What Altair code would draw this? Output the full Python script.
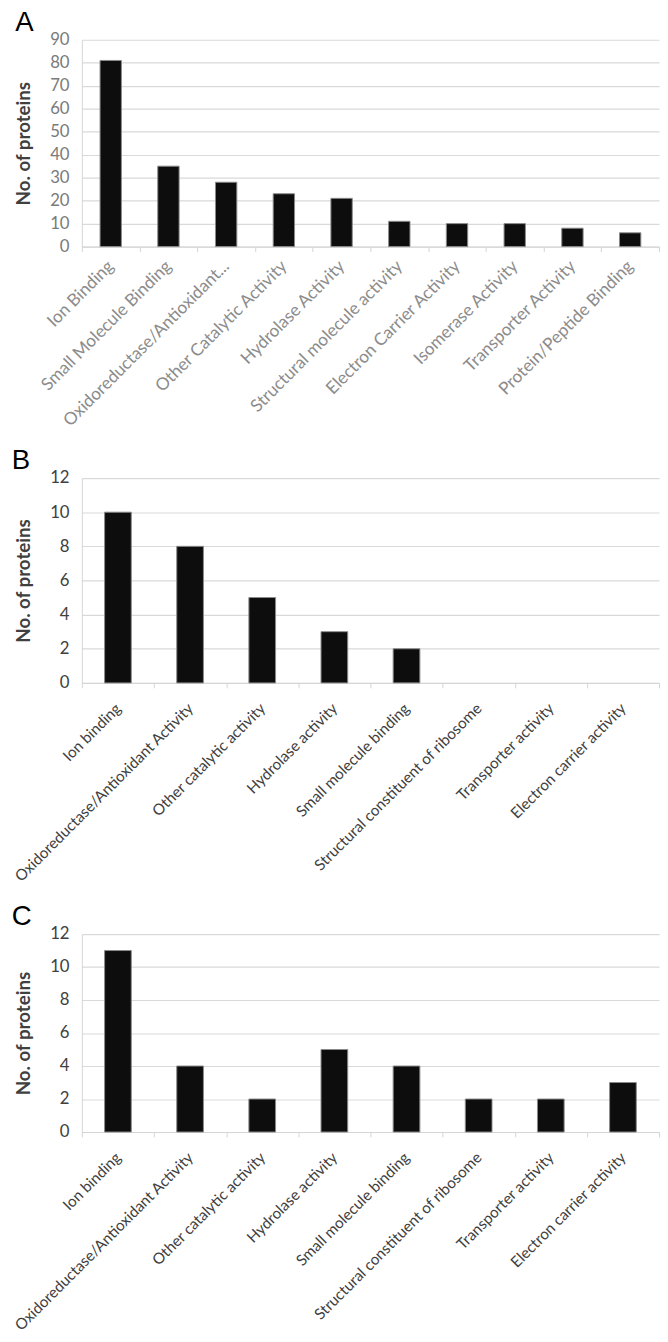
import altair as alt
import pandas as pd

cats_a = ["Ion Binding", "Small Molecule Binding", "Oxidoreductase/Antioxidant...",
          "Other Catalytic Activity", "Hydrolase Activity", "Structural molecule activity",
          "Electron Carrier Activity", "Isomerase Activity", "Transporter Activity",
          "Protein/Peptide Binding"]
vals_a = [81, 35, 28, 23, 21, 11, 10, 10, 8, 6]

cats_bc = ["Ion binding", "Oxidoreductase/Antioxidant Activity", "Other catalytic activity",
           "Hydrolase activity", "Small molecule binding", "Structural constituent of ribosome",
           "Transporter activity", "Electron carrier activity"]
vals_b = [10, 8, 5, 3, 2, 0, 0, 0]
vals_c = [11, 4, 2, 5, 4, 2, 2, 3]

ticks_a = [0, 10, 20, 30, 40, 50, 60, 70, 80, 90]
ticks_bc = [0, 2, 4, 6, 8, 10, 12]


def panel(letter, cats, vals, ticks, height, xlab_color, xlab_size, xlab_pad, ylab_color):
    df = pd.DataFrame({"cat": cats, "val": vals})
    return (
        alt.Chart(
            df,
            title=alt.TitleParams(
                letter, anchor="start", frame="bounds", fontSize=28,
                font="Liberation Sans", fontWeight="normal", color="black",
                offset=0, dy=6,
            ),
        )
        .mark_bar(width={"band": 0.37}, color="#0d0d0d", stroke="#8a8a8a", strokeWidth=1)
        .encode(
            x=alt.X(
                "cat:N", sort=cats, title=None,
                scale=alt.Scale(paddingInner=0, paddingOuter=0),
                axis=alt.Axis(
                    labelAngle=-45, labelAlign="right", labelBaseline="middle",
                    tickBand="extent", labelFont="Lato", labelFontSize=xlab_size,
                    labelColor=xlab_color, domainColor="#d4d4d4", tickColor="#d4d4d4",
                    tickSize=5, labelPadding=xlab_pad, grid=False, labelLimit=400,
                ),
            ),
            y=alt.Y(
                "val:Q", scale=alt.Scale(domain=[ticks[0], ticks[-1]], nice=False),
                axis=alt.Axis(
                    values=ticks, title="No. of proteins", titleFont="Lato",
                    titleFontSize=19, titleFontWeight="bold", titleColor="#404040",
                    titlePadding=16, labelFont="Lato", labelFontSize=17,
                    labelColor=ylab_color, labelPadding=13, ticks=False,
                    domainColor="#d4d4d4", gridColor="#d9d9d9", gridWidth=1.2,
                ),
            ),
            strokeOpacity=alt.condition("datum.val > 0", alt.value(1), alt.value(0)),
        )
        .properties(width=586, height=height)
    )


a = panel("A", cats_a, vals_a, ticks_a, 210, "#8c8c8c", 17.5, 12, "#7a7a7a")
b = panel("B", cats_bc, vals_b, ticks_bc, 208, "#404040", 15.5, 18, "#404040")
c = panel("C", cats_bc, vals_c, ticks_bc, 201, "#404040", 15.5, 18, "#404040")

chart = (
    alt.vconcat(a, b, c, spacing=18)
    .properties(padding={"left": 3, "top": -9, "right": 0, "bottom": 0})
    .configure_view(stroke=None)
)

chart.save("out.html", embed_options={"renderer": "svg", "actions": False})
